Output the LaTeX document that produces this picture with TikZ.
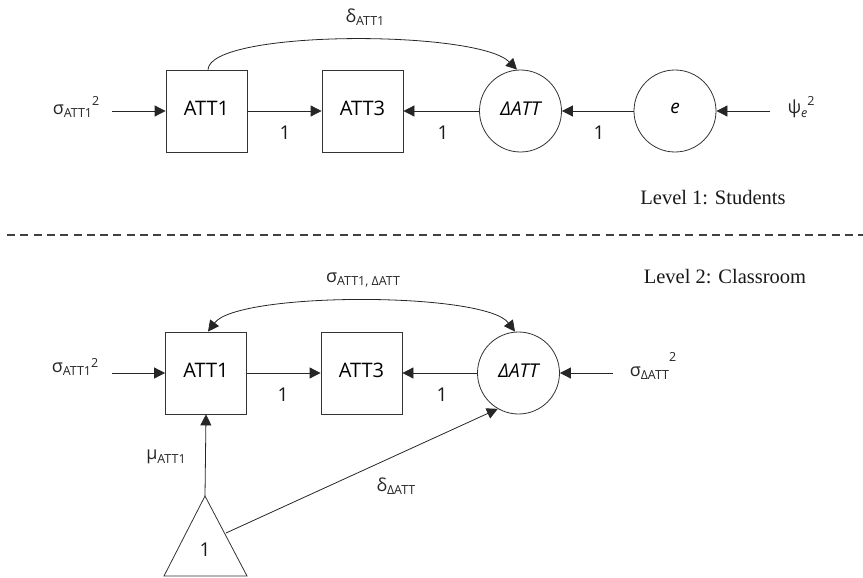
\documentclass[tikz,border=0pt]{standalone}
\usepackage{fontspec}
\setmainfont{Open Sans}
\newfontfamily\serifcap{Liberation Serif}
\usetikzlibrary{arrows.meta}
\tikzset{
  pathline/.style={draw=black!85, line width=0.8pt},
  arr/.style={pathline, -{Triangle[length=11pt,width=11pt]}},
  darr/.style={pathline, {Triangle[length=11pt,width=11pt]}-{Triangle[length=11pt,width=11pt]}},
  obsbox/.style={draw=black!80, line width=0.8pt, minimum width=81pt, minimum height=82pt, inner sep=0pt, font=\fontsize{20}{24}\selectfont},
  latent/.style={draw=black!80, line width=0.8pt, circle, minimum size=82pt, inner sep=0pt, font=\fontsize{19}{23}\selectfont\itshape},
  lbl/.style={inner sep=0pt, font=\fontsize{18}{21}\selectfont, text=black!85},
  num/.style={inner sep=0pt, font=\fontsize{19}{22}\selectfont, text=black!90},
  levelt/.style={inner sep=0pt, font=\serifcap\fontsize{20.5}{24}\selectfont, text=black!90},
}
\newcommand{\sbs}[1]{\raisebox{-0.35ex}{\fontsize{12.5}{14}\selectfont #1}}
\newcommand{\sps}[1]{\raisebox{0.9ex}{\fontsize{12.5}{14}\selectfont #1}}
\begin{document}
\begin{tikzpicture}[x=1pt,y=-1pt]
\useasboundingbox (0,0) rectangle (863,578);
% ---------- Level 1 ----------
\node[obsbox] (a1) at (206.5,111) {\raisebox{5pt}{ATT1}};
\node[obsbox] (a3) at (362.5,111) {\raisebox{5pt}{ATT3}};
\node[latent] (d1) at (520.5,111) {\raisebox{5pt}{ΔATT}};
\node[latent] (e1) at (675,111) {\raisebox{5pt}{e}};
\node[lbl] (s1) at (76,107) {σ\sbs{ATT1}\sps{2}};
\node[lbl] (p1) at (801,107) {ψ\sbs{\itshape e}\sps{2}};
\coordinate (s1e) at (112,111);
\coordinate (p1e) at (770,111);
\draw[arr] (s1e) -- (a1.west);
\draw[arr] (a1.east) -- (a3.west);
\draw[arr] (d1.west) -- (a3.east);
\draw[arr] (e1.west) -- (d1.east);
\draw[arr] (p1e) -- (e1.east);
\node[num] (n11) at (285,133) {1};
\node[num] (n12) at (443,133) {1};
\node[num] (n13) at (599,133) {1};
\draw[arr] ([xshift=1.5pt]a1.north) .. controls +(2,-40) and +(-40,-40) .. ([xshift=-3.5pt]d1.north);
\node[lbl] (dl1) at (365,17) {δ\sbs{ATT1}};
\node[levelt] (lev1) at (713,198) {Level 1: Students};
% ---------- divider ----------
\coordinate (dvl) at (7,235);
\coordinate (dvr) at (863,235);
\draw[draw=black!75, line width=1.8pt, dash pattern=on 8pt off 5.3pt] (dvl) -- (dvr);
% ---------- Level 2 ----------
\node[levelt] (lev2) at (725,277) {Level 2: Classroom};
\node[obsbox] (b1) at (206,373) {\raisebox{5pt}{ATT1}};
\node[obsbox] (b3) at (361.5,373) {\raisebox{5pt}{ATT3}};
\node[latent] (d2) at (518.5,373) {\raisebox{5pt}{ΔATT}};
\node[lbl] (s2) at (75,367) {σ\sbs{ATT1}\raisebox{0.45ex}{\fontsize{12.5}{14}\selectfont 2}};
\node[lbl] (s3) at (653,366) {σ\sbs{ΔATT}\raisebox{1.5ex}{\fontsize{12.5}{14}\selectfont 2}};
\coordinate (s2e) at (112,373);
\coordinate (s3e) at (613,373);
\draw[arr] (s2e) -- (b1.west);
\draw[arr] (b1.east) -- (b3.west);
\draw[arr] (d2.west) -- (b3.east);
\draw[arr] (s3e) -- (d2.east);
\node[num] (n21) at (283,395) {1};
\node[num] (n22) at (442,395) {1};
\draw[darr] ([xshift=2pt]b1.north) .. controls +(30,-40) and +(-30,-40) .. ([xshift=-3.5pt]d2.north);
\node[lbl] (cv) at (363,280) {σ\sbs{ATT1, ΔATT}};
% triangle
\coordinate (tA) at (205,496);
\coordinate (tL) at (164,576);
\coordinate (tR) at (247,576);
\draw[draw=black!80, line width=0.8pt] (tA) -- (tL) -- (tR) -- cycle;
\node[num] (one) at (205,550) {1};
\coordinate (tRe) at (226,533);
\draw[arr] (tA) -- (b1.south);
\draw[arr] (tRe) -- (d2.240);
\node[lbl] (mu) at (166,457) {μ\sbs{ATT1}};
\node[lbl] (dd) at (396,486) {δ\sbs{ΔATT}};
\end{tikzpicture}
\end{document}
